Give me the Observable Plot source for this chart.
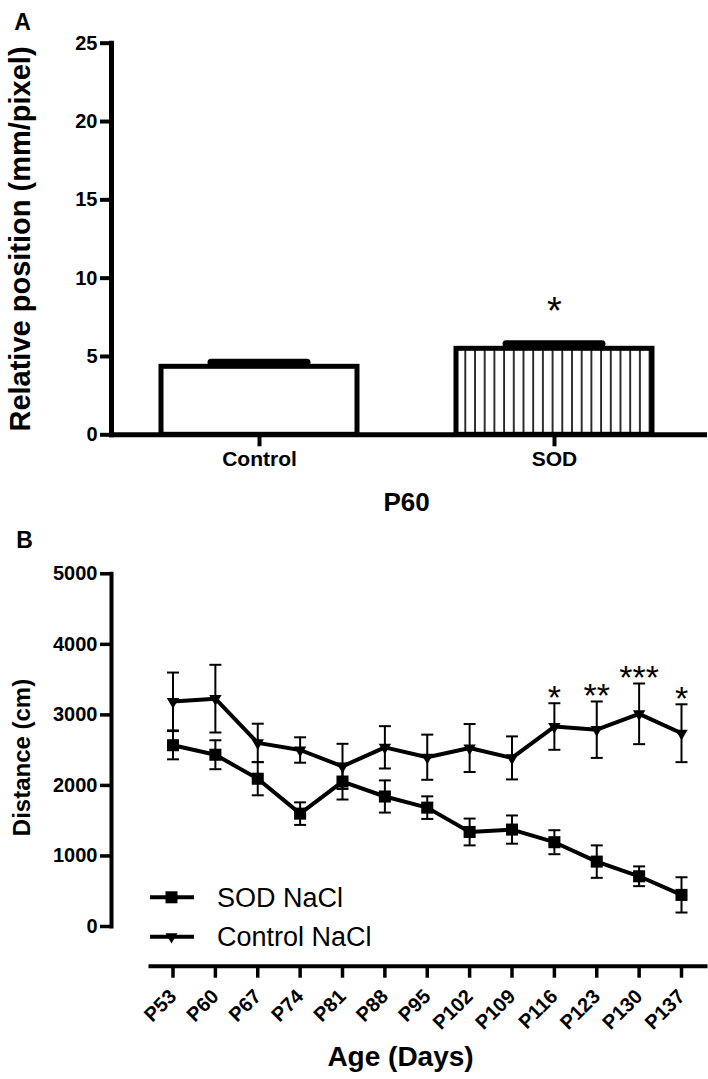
<!DOCTYPE html>
<html><head><meta charset="utf-8">
<script src="https://cdn.jsdelivr.net/npm/d3@7"></script>
<script src="https://cdn.jsdelivr.net/npm/@observablehq/plot@0.6"></script>
<style>
body{margin:0;background:#fff;}
#wrap{position:relative;width:708px;height:1079px;overflow:hidden;}
#wrap svg{position:absolute;left:0;}
</style></head><body><div id="wrap"></div>
<script>
// ---------- Panel A data ----------
const groupsA = ["Control", "SOD"];
const meansA = [4.34, 5.49];
const semsA = [0.29, 0.32];
const sigA = ["", "*"];
const yTicksA = [0, 5, 10, 15, 20, 25];

// ---------- Panel B data ----------
const ages = [53, 60, 67, 74, 81, 88, 95, 102, 109, 116, 123, 130, 137];
const sodMean = [2570, 2435, 2095, 1600, 2055, 1843, 1685, 1340, 1374, 1195, 920, 712, 448];
const sodSem = [200, 205, 235, 160, 255, 228, 160, 190, 200, 170, 230, 140, 250];
const ctrlMean = [3190, 3230, 2603, 2502, 2270, 2540, 2400, 2530, 2390, 2835, 2790, 3015, 2740];
const ctrlSem = [410, 480, 272, 180, 320, 300, 320, 340, 305, 330, 400, 430, 410];
const sigB = ["", "", "", "", "", "", "", "", "", "*", "**", "***", "*"];
const yTicksB = [0, 1000, 2000, 3000, 4000, 5000];
const seriesB = ["SOD NaCl", "Control NaCl"];

const FONT = '"Liberation Sans", Arial, Helvetica, sans-serif';
const wrap = document.getElementById("wrap");

// ---------- Panel A ----------
const dataA = groupsA.map((g, i) => ({group: g, mean: meansA[i], sem: semsA[i], hi: meansA[i] + semsA[i], sig: sigA[i]}));

const svgA = Plot.plot({
  width: 708, height: 520,
  marginTop: 42.7, marginBottom: 85.7, marginLeft: 111, marginRight: 4,
  style: {fontFamily: FONT, fontSize: "20px", fontWeight: "bold", color: "#000", background: "transparent", overflow: "visible"},
  x: {type: "band", domain: groupsA, range: [160.5, 652], paddingInner: 0.337, paddingOuter: 0},
  y: {domain: [0, 25], range: [434.3, 42.7]},
  marks: [
    Plot.barY(dataA, {x: "group", y: "mean", fill: "white", stroke: "black", strokeWidth: 5}),
    Plot.ruleX(dataA, {x: "group", y1: "mean", y2: "hi", strokeWidth: 4}),
    Plot.tickY(dataA, {x: "group", y: "hi", strokeWidth: 7, insetLeft: 50, insetRight: 50, strokeLinecap: "round"}),
    Plot.text(dataA, {x: "group", y: "hi", text: "sig", dy: -32, fontSize: 38, fontWeight: "normal"}),
    Plot.frame({anchor: "left", strokeWidth: 5}),
    Plot.frame({anchor: "bottom", strokeWidth: 5}),
    Plot.axisY({ticks: yTicksA, tickSize: 11, tickPadding: 3, strokeWidth: 4, fontSize: 20, label: null}),
    Plot.axisX({tickSize: 12, tickPadding: 4, strokeWidth: 4, fontSize: 21, label: null}),
    Plot.text(["P60"], {frameAnchor: "bottom", text: d => d, dy: 67.7, dx: -1.5, lineAnchor: "middle", fontSize: 26}),
    Plot.text(["Relative position (mm/pixel)"], {frameAnchor: "left", text: d => d, rotate: -90, dx: -91, dy: 0, lineAnchor: "middle", textAnchor: "middle", fontSize: 29}),
    Plot.text(["A"], {frameAnchor: "top-left", text: d => d, dx: -89, dy: -20.7, lineAnchor: "middle", textAnchor: "middle", fontSize: 23})
  ]
});
svgA.style.top = "0px";
wrap.appendChild(svgA);

// hatch pattern for SOD bar
{
  const s = d3.select(svgA);
  const pat = s.insert("defs", ":first-child").append("pattern")
    .attr("id", "hatchA").attr("patternUnits", "userSpaceOnUse")
    .attr("x", 464.3).attr("y", 0).attr("width", 9.7).attr("height", 10);
  pat.append("rect").attr("width", 9.7).attr("height", 10).attr("fill", "white");
  pat.append("line").attr("x1", 1).attr("x2", 1).attr("y1", 0).attr("y2", 10)
    .attr("stroke", "black").attr("stroke-width", 1.6);
  s.selectAll("rect").filter(function () {
    return this.closest("pattern") === null && +this.getAttribute("x") > 400;
  }).attr("fill", "url(#hatchA)").style("fill", "url(#hatchA)");
}

// ---------- Panel B ----------
const rowsB = [];
ages.forEach((a, i) => {
  rowsB.push({age: a, series: seriesB[0], mean: sodMean[i], lo: sodMean[i] - sodSem[i], hi: sodMean[i] + sodSem[i], sig: ""});
  rowsB.push({age: a, series: seriesB[1], mean: ctrlMean[i], lo: ctrlMean[i] - ctrlSem[i], hi: ctrlMean[i] + ctrlSem[i], sig: sigB[i]});
});

const capSymbol = {
  draw(ctx, size) {
    const w = Math.sqrt(size / Math.PI);
    ctx.moveTo(-w, 0);
    ctx.lineTo(w, 0);
  }
};

const svgB = Plot.plot({
  width: 708, height: 559,
  marginTop: 53.3, marginBottom: 113.3, marginLeft: 111, marginRight: 3,
  style: {fontFamily: FONT, fontSize: "20px", fontWeight: "bold", color: "#000", background: "transparent", overflow: "visible"},
  x: {type: "linear", domain: [53, 137], range: [172.5, 681]},
  y: {domain: [0, 5000], range: [406, 53.3]},
  marks: [
    Plot.frame({anchor: "left", insetBottom: 39.7, strokeWidth: 4}),
    Plot.frame({anchor: "bottom", insetLeft: 39, strokeWidth: 4}),
    Plot.axisY({ticks: yTicksB, tickFormat: d => String(d), tickSize: 11, tickPadding: 3, strokeWidth: 3.5, fontSize: 20, label: null}),
    Plot.axisX({ticks: ages, tickFormat: d => "P" + d, tickSize: 12, tickPadding: 15, tickRotate: -45, strokeWidth: 3.5, fontSize: 20, label: null}),
    Plot.ruleX(rowsB, {x: "age", y1: "lo", y2: "hi", strokeWidth: 2}),
    Plot.dot(rowsB, {x: "age", y: "lo", symbol: capSymbol, r: 6, stroke: "black", fill: "none", strokeWidth: 2}),
    Plot.dot(rowsB, {x: "age", y: "hi", symbol: capSymbol, r: 6, stroke: "black", fill: "none", strokeWidth: 2}),
    Plot.line(rowsB, {x: "age", y: "mean", z: "series", stroke: "black", strokeWidth: 4}),
    Plot.dot(rowsB, {filter: d => d.series === seriesB[0], x: "age", y: "mean", symbol: "square", r: 6.8, fill: "black", stroke: "none"}),
    Plot.dot(rowsB, {filter: d => d.series === seriesB[1], x: "age", y: "mean", symbol: "triangle", r: 4.6, rotate: 180, fill: "black", stroke: "none"}),
    Plot.text(rowsB, {filter: d => d.sig, x: "age", y: "hi", text: "sig", dy: -5, fontSize: 34, fontWeight: "normal"}),
    Plot.text(["Age (Days)"], {frameAnchor: "bottom", text: d => d, dx: -8, dy: 91.3, lineAnchor: "middle", fontSize: 28}),
    Plot.text(["Distance (cm)"], {frameAnchor: "left", text: d => d, rotate: -90, dx: -89, dy: -12.5, lineAnchor: "middle", textAnchor: "middle", fontSize: 24}),
    Plot.text(["B"], {frameAnchor: "top-left", text: d => d, dx: -87, dy: -33.3, lineAnchor: "middle", textAnchor: "middle", fontSize: 23})
  ]
});
svgB.style.top = "520px";
wrap.appendChild(svgB);

// legend (inside panel B)
{
  const s = d3.select(svgB);
  const g = s.append("g").attr("aria-label", "legend");
  const items = seriesB.map((name, i) => ({name, y: 377.3 + i * 39.4, sym: i === 0 ? d3.symbolSquare : d3.symbolTriangle, size: i === 0 ? 144 : 62, rot: i === 0 ? 0 : 180}));
  const it = g.selectAll("g").data(items).join("g").attr("transform", d => `translate(0,${d.y})`);
  it.append("line").attr("x1", 150).attr("x2", 194).attr("y1", 0).attr("y2", 0).attr("stroke", "black").attr("stroke-width", 4);
  it.append("path").attr("d", d => d3.symbol(d.sym, d.size)()).attr("transform", d => `translate(171.5,0) rotate(${d.rot})`).attr("fill", "black");
  it.append("text").attr("x", 217).attr("dy", "0.35em").attr("text-anchor", "start").style("text-anchor", "start").text(d => d.name)
    .attr("font-family", FONT).attr("font-size", 27).attr("font-weight", "normal").attr("fill", "black");
}
</script></body></html>
